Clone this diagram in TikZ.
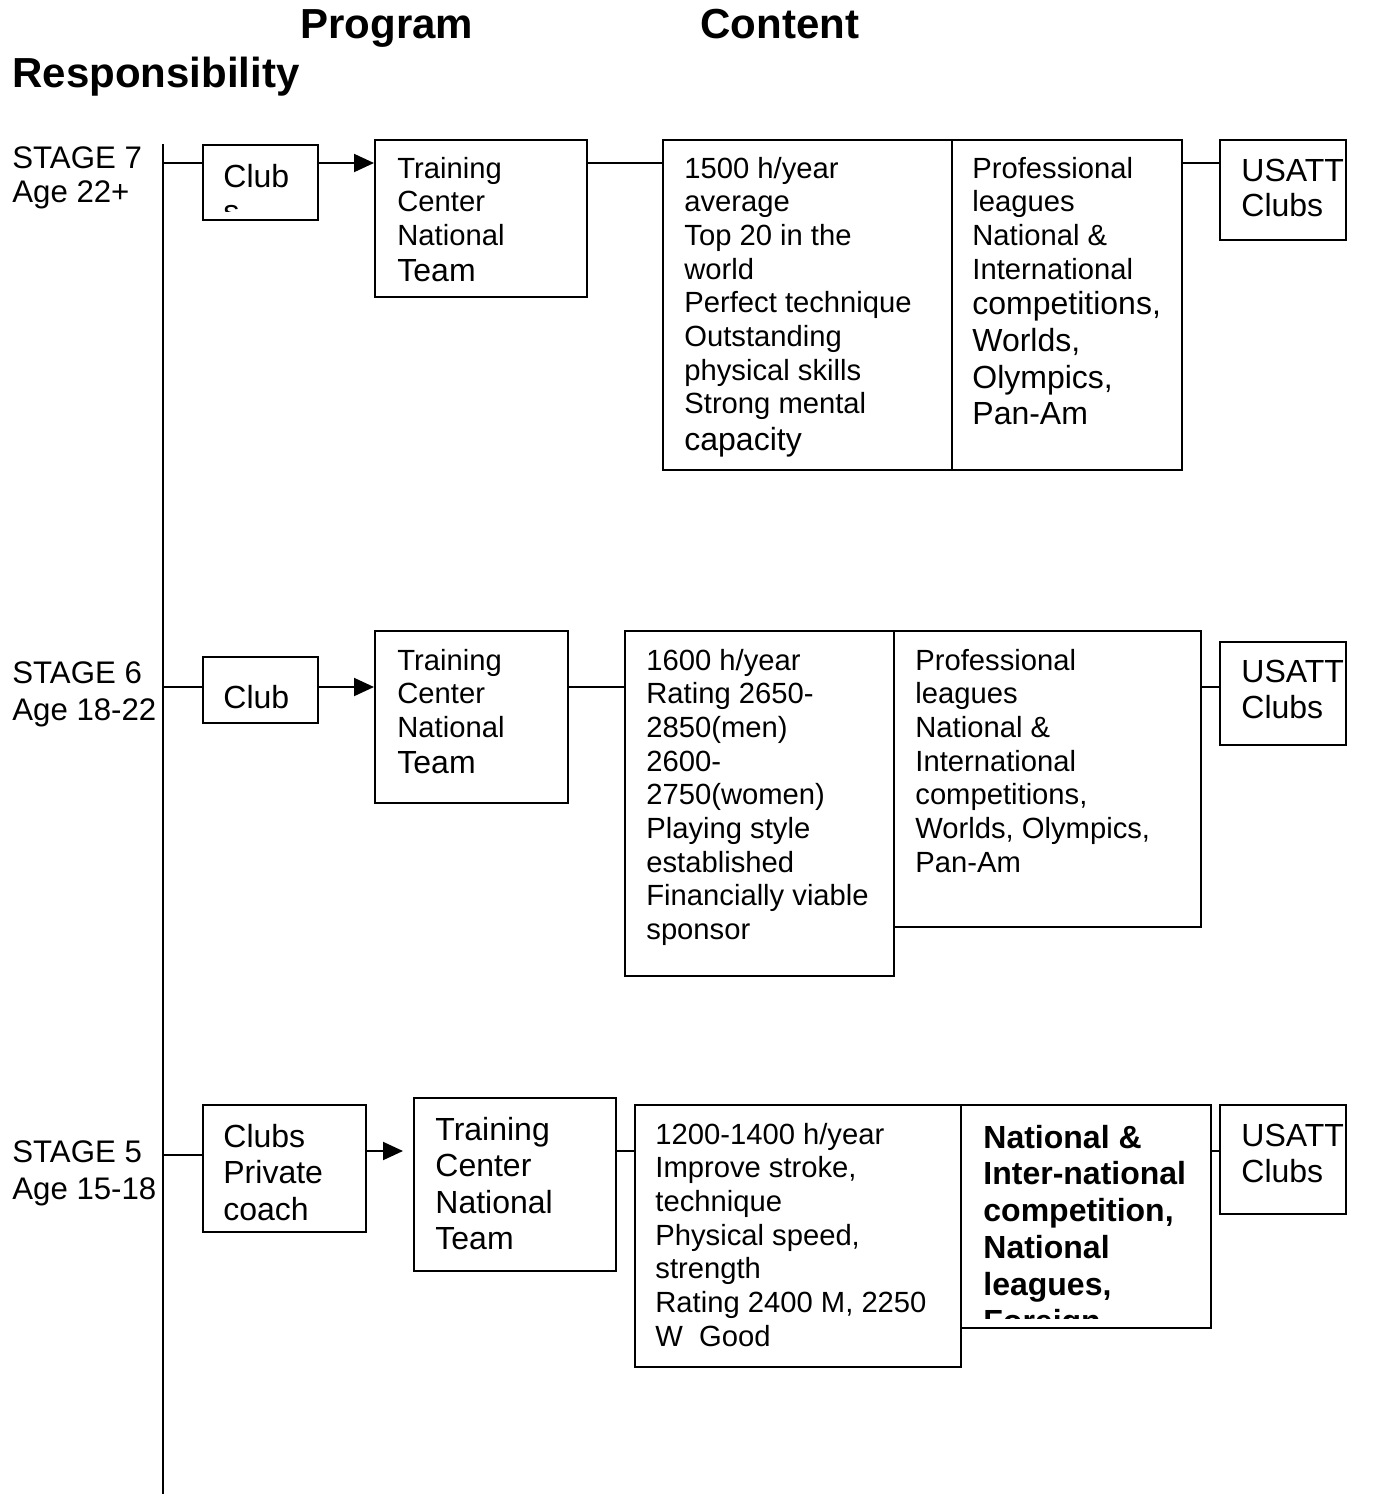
\documentclass[tikz,border=0pt]{standalone}
\usepackage{fontspec}
\setmainfont{Liberation Sans}
\usetikzlibrary{fit,arrows.meta}
\newcommand\fsm{\fontsize{14.6}{16.85}\selectfont}
\newcommand\fbg{\fontsize{16}{18.25}\selectfont}
\newcommand\ftitle{\fontsize{21}{25}\selectfont\bfseries}
\tikzset{
  box/.style={draw, line width=1pt, inner sep=0pt, rectangle},
  txt/.style={inner sep=0pt, anchor=north west, align=left},
  conn/.style={line width=1pt},
  arr/.style={line width=1pt, -{Triangle[length=10pt,width=9pt]}},
}
\begin{document}
\begin{tikzpicture}[x=0.5pt,y=-0.5pt]
\useasboundingbox[fill=white] (0,0) rectangle (1384,1494);

% titles
\node[txt, font=\ftitle] (tprog) at (300,9) {Program};
\node[txt, font=\ftitle] (tcont) at (700,9) {Content};
\node[txt, font=\ftitle] (tresp) at (12,57) {Responsibility};

% axis
\coordinate (axtop) at (163,144);
\coordinate (axbot) at (163,1494);
\draw[conn] (axtop) -- (axbot);

% ---------------- STAGE 7
\node[txt, font=\fontsize{15.6}{17.3}\selectfont] (lab7) at (12,146) {STAGE 7\\Age 22+};
\node[box, fit={(203,145) (318,220)}] (club7) {};
\begin{scope}
\clip (205,147) rectangle (316,211);
\node[txt, font=\fontsize{16}{17.5}\selectfont] (club7t) at (223,163.5) {Club\\s};
\end{scope}
\node[box, fit={(375,140) (587,297)}] (train7) {};
\node[txt, font=\fsm] (train7t) at (397,156.5) {Training\\Center\\National\\[1.1pt]{\fbg Team}};
\node[box, fit={(663,140) (952,470)}] (cont7) {};
\node[txt, font=\fsm] (cont7t) at (684,156.5) {1500 h/year\\average\\Top 20 in the\\world\\Perfect technique\\Outstanding\\physical skills\\Strong mental\\[1.6pt]{\fbg capacity}};
\node[box, fit={(952,140) (1182,470)}] (comp7) {};
\node[txt, font=\fsm] (comp7t) at (972,156.5) {Professional\\leagues\\National \&\\International\\[0.6pt]{\fbg competitions,}\\[1.7pt]{\fbg Worlds,}\\[1.7pt]{\fbg Olympics,}\\[1.2pt]{\fbg Pan-Am}};
\node[box, fit={(1220,140) (1346,240)}] (usa7) {};
\node[txt, font=\fontsize{16}{17.6}\selectfont] (usa7t) at (1241,158.5) {USATT\\Clubs};

\coordinate (a7) at (163,163);
\draw[conn] (a7) -- (club7.west |- a7);
\draw[arr] (club7.east |- a7) -- (train7.west |- a7);
\draw[conn] (train7.east |- a7) -- (cont7.west |- a7);
\draw[conn] (comp7.east |- a7) -- (usa7.west |- a7);

% ---------------- STAGE 6
\node[txt, font=\fontsize{15.6}{18.5}\selectfont] (lab6) at (12,661) {STAGE 6\\Age 18-22};
\node[box, fit={(203,657) (318,723)}] (club6) {};
\node[txt, font=\fbg] (club6t) at (223,684.5) {Club};
\node[box, fit={(375,631) (568,803)}] (train6) {};
\node[txt, font=\fsm] (train6t) at (397,648.5) {Training\\Center\\National\\[1.1pt]{\fbg Team}};
\node[box, fit={(625,631) (894,976)}] (cont6) {};
\node[txt, font=\fsm] (cont6t) at (646,648.5) {1600 h/year\\Rating 2650-\\2850(men)\\2600-\\2750(women)\\Playing style\\established\\Financially viable\\sponsor};
\node[box, fit={(894,631) (1201,927)}] (comp6) {};
\node[txt, font=\fsm] (comp6t) at (915,648.5) {Professional\\leagues\\National \&\\International\\competitions,\\Worlds, Olympics,\\Pan-Am};
\node[box, fit={(1220,642) (1346,745)}] (usa6) {};
\node[txt, font=\fontsize{16}{18}\selectfont] (usa6t) at (1241,659.5) {USATT\\Clubs};

\coordinate (a6) at (163,687);
\draw[conn] (a6) -- (club6.west |- a6);
\draw[arr] (club6.east |- a6) -- (train6.west |- a6);
\draw[conn] (train6.east |- a6) -- (cont6.west |- a6);
\draw[conn] (comp6.east |- a6) -- (usa6.west |- a6);

% ---------------- STAGE 5
\node[txt, font=\fontsize{15.6}{18.4}\selectfont] (lab5) at (12,1140) {STAGE 5\\Age 15-18};
\node[box, fit={(203,1105) (366,1232)}] (club5) {};
\node[txt, font=\fbg] (club5t) at (223,1123.5) {Clubs\\Private\\coach};
\node[box, fit={(414,1098) (616,1271)}] (train5) {};
\node[txt, font=\fbg] (train5t) at (435,1116.5) {Training\\Center\\National\\Team};
\node[box, fit={(635,1105) (961,1367)}] (cont5) {};
\node[txt, font=\fsm] (cont5t) at (655,1122.5) {1200-1400 h/year\\Improve stroke,\\technique\\Physical speed,\\strength\\Rating 2400 M, 2250\\W\ \ Good};
\node[box, fit={(961,1105) (1211,1328)}] (comp5) {};
\begin{scope}
\clip (963,1107) rectangle (1209,1318);
\node[txt, font=\fontsize{16}{18.4}\selectfont\bfseries] (comp5t) at (983,1124.5) {National \&\\Inter-national\\competition,\\National\\leagues,\\Foreign};
\end{scope}
\node[box, fit={(1220,1105) (1346,1214)}] (usa5) {};
\node[txt, font=\fontsize{16}{18}\selectfont] (usa5t) at (1241,1123.5) {USATT\\Clubs};

\coordinate (a5) at (163,1155);
\coordinate (b5) at (163,1151);
\draw[conn] (a5) -- (club5.west |- a5);
\draw[arr, shorten >=5pt] (club5.east |- b5) -- (train5.west |- b5);
\draw[conn] (train5.east |- b5) -- (cont5.west |- b5);
\draw[conn] (comp5.east |- b5) -- (usa5.west |- b5);
\end{tikzpicture}
\end{document}
